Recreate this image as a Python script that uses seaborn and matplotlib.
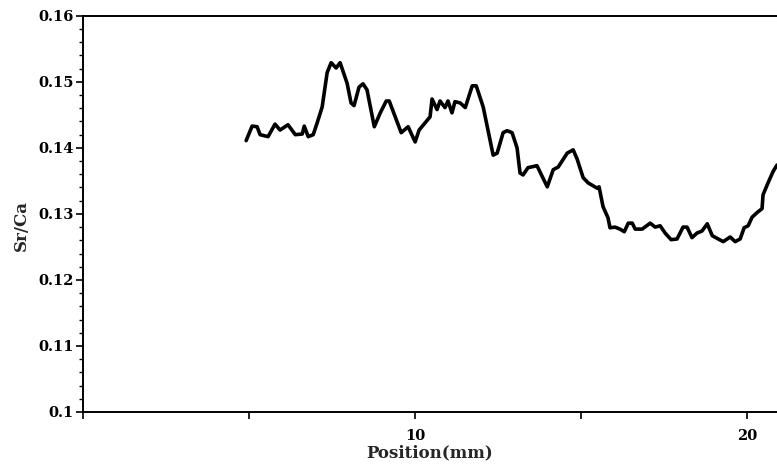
import matplotlib
matplotlib.use("Agg")
import matplotlib.pyplot as plt
from matplotlib.ticker import MultipleLocator, FuncFormatter
import numpy as np
import pandas as pd
import seaborn as sns

position = [4.91, 5.09, 5.24, 5.33, 5.57, 5.78, 5.93, 6.17, 6.39, 6.60,
            6.66, 6.78, 6.93, 7.05, 7.20, 7.35, 7.47, 7.62, 7.74, 7.95,
            8.07, 8.16, 8.31, 8.43, 8.55, 8.77, 8.95, 9.13, 9.22, 9.40,
            9.58, 9.79, 10.00, 10.12, 10.45, 10.51, 10.66, 10.75, 10.90, 10.99,
            11.11, 11.20, 11.36, 11.51, 11.72, 11.84, 12.05, 12.35, 12.47, 12.65,
            12.77, 12.92, 13.07, 13.16, 13.25, 13.40, 13.67, 13.98, 14.16, 14.31,
            14.58, 14.76, 14.88, 15.06, 15.21, 15.48, 15.54, 15.66, 15.81, 15.87,
            16.02, 16.17, 16.30, 16.42, 16.54, 16.63, 16.84, 17.08, 17.23, 17.38,
            17.53, 17.71, 17.89, 18.07, 18.19, 18.34, 18.49, 18.64, 18.80, 18.95,
            19.13, 19.28, 19.49, 19.64, 19.79, 19.91, 20.03, 20.15, 20.30, 20.45,
            20.48, 20.63, 20.78, 20.90]
ratio = [0.1411, 0.1433, 0.1432, 0.1420, 0.1417, 0.1436, 0.1427, 0.1435, 0.1420, 0.1421,
         0.1433, 0.1417, 0.1420, 0.1438, 0.1462, 0.1514, 0.1529, 0.1521, 0.1529, 0.1498,
         0.1468, 0.1464, 0.1492, 0.1497, 0.1488, 0.1432, 0.1453, 0.1471, 0.1471, 0.1447,
         0.1423, 0.1432, 0.1409, 0.1427, 0.1447, 0.1474, 0.1458, 0.1471, 0.1461, 0.1471,
         0.1453, 0.1470, 0.1468, 0.1461, 0.1494, 0.1494, 0.1462, 0.1389, 0.1392, 0.1423,
         0.1426, 0.1423, 0.1400, 0.1362, 0.1359, 0.1370, 0.1373, 0.1341, 0.1367, 0.1371,
         0.1392, 0.1397, 0.1383, 0.1355, 0.1347, 0.1339, 0.1341, 0.1311, 0.1294, 0.1279,
         0.1280, 0.1277, 0.1273, 0.1286, 0.1286, 0.1277, 0.1277, 0.1286, 0.1280, 0.1282,
         0.1271, 0.1261, 0.1262, 0.1280, 0.1280, 0.1264, 0.1271, 0.1274, 0.1285, 0.1267,
         0.1262, 0.1258, 0.1265, 0.1258, 0.1262, 0.1279, 0.1282, 0.1295, 0.1302, 0.1308,
         0.1329, 0.1347, 0.1364, 0.1374]

df = pd.DataFrame({"pos": position, "ratio": ratio})

sns.set_style("ticks")
plt.rcParams["font.family"] = ["DejaVu Serif", "Liberation Serif"]
plt.rcParams["font.weight"] = "bold"

fig = plt.figure(figsize=(7.77, 4.65), dpi=100)
ax = fig.add_axes([0.107, 0.114, 0.893, 0.852])

sns.lineplot(data=df, x="pos", y="ratio", ax=ax, color="black", linewidth=2.6,
             estimator=None, sort=False)

ax.set_xlim(0, 20.9)
ax.set_ylim(0.1, 0.16)
ax.xaxis.set_major_locator(MultipleLocator(10))
ax.xaxis.set_minor_locator(MultipleLocator(5))
ax.yaxis.set_major_locator(MultipleLocator(0.01))
ax.yaxis.set_minor_locator(MultipleLocator(0.002))
ax.xaxis.set_major_formatter(FuncFormatter(lambda v, p: "" if v == 0 else "%g" % v))
ax.yaxis.set_major_formatter(FuncFormatter(lambda v, p: "%g" % round(v, 3)))

ax.tick_params(which="major", direction="out", length=5, width=1.2, labelsize=10.5, colors="black")
ax.tick_params(which="minor", direction="out", length=3, width=1, colors="black")
ax.tick_params(axis="x", which="minor", length=5, width=1.2)
ax.tick_params(axis="x", which="major", pad=7)
ax.tick_params(axis="y", which="major", pad=2)
for lab in ax.get_xticklabels() + ax.get_yticklabels():
    lab.set_fontweight("bold")

for s in ["left", "bottom", "top"]:
    ax.spines[s].set_linewidth(1.4)
    ax.spines[s].set_color("black")
ax.spines["right"].set_visible(False)

ax.set_xlabel("Position(mm)", fontsize=12, fontweight="bold", labelpad=1)
ax.set_ylabel("Sr/Ca", fontsize=12, fontweight="bold", labelpad=3)
ax.yaxis.set_label_coords(-0.077, 0.47)

fig.savefig("out.png", dpi=100)
